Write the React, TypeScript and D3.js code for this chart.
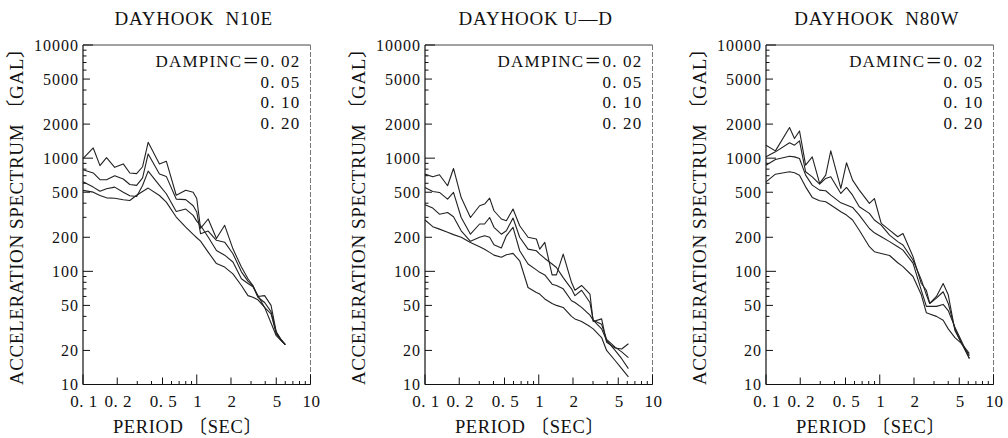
import React from 'react'
import * as d3 from 'd3'

// Damping labels (legend rows)
const DAMPING_LABELS = ['0. 02', '0. 05', '0. 10', '0. 20']

// DAYHOOK N10E — period (sec) and spectra (gal) for h = 0.02 / 0.05 / 0.10 / 0.20
const N10E_PERIODS = [0.10, 0.123, 0.141, 0.161, 0.19, 0.226, 0.258, 0.296, 0.334, 0.374, 0.47, 0.54, 0.66, 0.80, 0.93, 1.0, 1.08, 1.26, 1.49, 1.76, 2.08, 2.47, 2.82, 3.12, 3.45, 3.95, 4.5, 5.0, 5.5, 6.0]
const N10E_H02 = [990, 1230, 860, 1010, 830, 890, 740, 730, 840, 1380, 890, 940, 470, 520, 500, 440, 240, 290, 195, 255, 158, 109, 86, 75, 60, 61, 50, 29, 25, 22.5]
const N10E_H05 = [790, 740, 645, 645, 700, 655, 585, 575, 670, 1090, 725, 690, 435, 430, 380, 335, 215, 227, 188, 181, 143, 99, 82, 74, 59, 53, 44, 29, 25, 22.5]
const N10E_H10 = [620, 555, 510, 537, 555, 500, 466, 459, 574, 768, 574, 485, 338, 355, 312, 278, 254, 201, 153, 139, 121, 86, 78, 73, 61, 48, 42, 28, 24.5, 22.5]
const N10E_H20 = [519, 501, 468, 446, 443, 429, 423, 470, 508, 544, 468, 409, 302, 246, 212, 198, 185, 148, 117, 109, 95, 75, 61, 59, 56, 48, 35, 27, 24.5, 22.5]

// DAYHOOK U-D
const UD_PERIODS = [0.10, 0.117, 0.134, 0.158, 0.178, 0.208, 0.251, 0.302, 0.334, 0.370, 0.404, 0.469, 0.519, 0.594, 0.68, 0.805, 0.953, 1.02, 1.13, 1.31, 1.43, 1.64, 1.94, 2.08, 2.38, 2.82, 3.01, 3.57, 3.95, 4.69, 5.36, 6.14]
const UD_H02 = [723, 684, 713, 570, 811, 449, 299, 380, 393, 444, 343, 290, 280, 355, 253, 200, 193, 157, 180, 93, 93, 142, 80, 68, 75, 63, 36, 38, 23.6, 21, 20.6, 22.9]
const UD_H05 = [551, 508, 498, 434, 498, 299, 213, 262, 262, 299, 245, 213, 228, 296, 200, 157, 152, 142, 130, 116, 108, 88, 70, 61, 68, 53, 37, 34, 25, 21.4, 19.4, 17.3]
const UD_H10 = [387, 362, 320, 331, 304, 228, 184, 200, 206, 200, 172, 161, 206, 245, 152, 116, 103, 98, 93, 77, 75, 70, 55, 53, 48, 41, 37, 31, 24.5, 20, 16.9, 13.8]
const UD_H20 = [284, 248, 236, 221, 211, 200, 180, 165, 157, 147, 139, 133, 140, 144, 124, 72, 65, 63, 57, 52, 50, 48, 40, 38, 36, 32.5, 31, 26, 20, 16.3, 13.8, 11.7]

// DAYHOOK N80W
const N80W_PERIODS = [0.10, 0.121, 0.161, 0.178, 0.197, 0.223, 0.255, 0.296, 0.335, 0.371, 0.455, 0.51, 0.577, 0.661, 0.811, 0.897, 1.03, 1.22, 1.44, 1.60, 1.96, 2.32, 2.57, 2.75, 3.15, 3.61, 4.0, 4.58, 5.25, 6.14]
const N80W_H02 = [1300, 1160, 1865, 1490, 1740, 867, 1027, 598, 708, 1160, 540, 910, 640, 522, 398, 440, 265, 231, 202, 216, 135, 78, 68, 52, 60, 78, 62, 30, 23, 18.8]
const N80W_H05 = [1027, 1137, 1366, 1302, 1422, 758, 684, 590, 662, 684, 488, 551, 471, 372, 325, 284, 256, 209, 183, 171, 126, 84, 62, 52, 58, 66, 52, 31, 23, 17]
const N80W_H10 = [867, 973, 1041, 1027, 993, 708, 578, 522, 515, 471, 403, 385, 367, 314, 239, 219, 202, 183, 165, 154, 118, 68, 49, 49, 49, 51, 45, 32, 24, 17]
const N80W_H20 = [618, 722, 758, 742, 708, 558, 450, 420, 412, 385, 336, 314, 284, 231, 165, 149, 144, 138, 119, 110, 90, 62, 43, 42, 40, 37, 31, 26, 23, 18]

const X_TICKS = [0.1, 0.2, 0.5, 1, 2, 5, 10]
const X_TICK_LABELS = ['0. 1', '0. 2', '0. 5', '1', '2', '5', '10']
const Y_TICKS = [10, 20, 50, 100, 200, 500, 1000, 2000, 5000, 10000]

const PANELS = [
  { title: 'DAYHOOK  N10E', legend: 'DAMPINC', left: 83, periods: N10E_PERIODS, series: [N10E_H02, N10E_H05, N10E_H10, N10E_H20] },
  { title: 'DAYHOOK U\u2014D', legend: 'DAMPINC', left: 425, periods: UD_PERIODS, series: [UD_H02, UD_H05, UD_H10, UD_H20] },
  { title: 'DAYHOOK  N80W', legend: 'DAMINC', left: 766, periods: N80W_PERIODS, series: [N80W_H02, N80W_H05, N80W_H10, N80W_H20] },
]

const W = 1008
const H = 438
const PW = 227.5
const TOP = 45
const BOTTOM = 384.5
const FONT = '"Liberation Serif", "DejaVu Serif", "Noto Sans CJK JP", serif'
const INK = '#111'

function tickLen(m: number) {
  if (m === 1) return 10
  if (m === 2 || m === 5) return 7
  return 3.5
}

function Panel({ p }: { p: typeof PANELS[number] }) {
  const x = d3.scaleLog().domain([0.1, 10]).range([p.left, p.left + PW])
  const y = d3.scaleLog().domain([10, 10000]).range([BOTTOM, TOP])

  const yMinor: { v: number; len: number }[] = []
  for (let e = 1; e <= 3; e++) for (let m = 1; m <= 9; m++) yMinor.push({ v: m * 10 ** e, len: tickLen(m) })
  yMinor.push({ v: 10000, len: 10 })
  const xMinor: { v: number; len: number }[] = []
  for (let e = -1; e <= 0; e++) for (let m = 1; m <= 9; m++) xMinor.push({ v: m * 10 ** e, len: tickLen(m) })
  xMinor.push({ v: 10, len: 10 })

  const line = d3.line<number>()
    .x((_, i) => x(p.periods[i]))
    .y(d => y(d))

  const cx = p.left + PW / 2
  const textStyle = { fontFamily: FONT, whiteSpace: 'pre' as const }

  return (
    <g>
      <text x={cx - 3} y={25} textAnchor="middle" fontSize={19} fill={INK}
        style={{ ...textStyle, letterSpacing: '0.8px' }}>{p.title}</text>

      {/* frame */}
      <line x1={p.left} x2={p.left + PW} y1={TOP} y2={TOP} stroke="#444" strokeWidth={1} />
      <line x1={p.left + PW} x2={p.left + PW} y1={TOP} y2={BOTTOM} stroke="#777" strokeWidth={1} strokeDasharray="5,2" />
      <line x1={p.left} x2={p.left} y1={TOP} y2={BOTTOM} stroke={INK} strokeWidth={1.2} />
      <line x1={p.left} x2={p.left + PW} y1={BOTTOM} y2={BOTTOM} stroke={INK} strokeWidth={1.2} />

      {yMinor.map((t, i) => (
        <line key={'y' + i} x1={p.left} x2={p.left + t.len} y1={y(t.v)} y2={y(t.v)} stroke={INK} strokeWidth={1} />
      ))}
      {xMinor.map((t, i) => (
        <line key={'x' + i} x1={x(t.v)} x2={x(t.v)} y1={BOTTOM} y2={BOTTOM - t.len} stroke={INK} strokeWidth={1} />
      ))}

      {Y_TICKS.map(v => (
        <text key={v} x={p.left - 4} y={y(v) + 5.5} textAnchor="end" fontSize={16} fill={INK}
          style={{ ...textStyle, letterSpacing: '1px' }}>{v}</text>
      ))}
      {X_TICKS.map((v, i) => (
        <text key={v} x={x(v) + 1} y={407} textAnchor="middle" fontSize={17} fill={INK}
          style={{ ...textStyle, letterSpacing: '0.5px' }}>{X_TICK_LABELS[i]}</text>
      ))}

      <text x={cx - 9} y={433} textAnchor="middle" fontSize={18.5} fill={INK}
        style={{ ...textStyle, letterSpacing: '0.6px' }}>PERIOD 〔SEC〕</text>
      <text transform={`translate(${p.left - 60},${(TOP + BOTTOM) / 2 - 3}) rotate(-90)`} textAnchor="middle"
        fontSize={19} fill={INK} style={{ ...textStyle, letterSpacing: '0.6px' }}>ACCELERATION SPECTRUM 〔GAL〕</text>

      {DAMPING_LABELS.map((lab, i) => (
        <text key={lab} x={p.left + PW - 10} y={67 + i * 20.5} textAnchor="end" fontSize={17} fill={INK}
          style={{ ...textStyle, letterSpacing: '1.2px' }}>{i === 0 ? `${p.legend}＝${lab}` : lab}</text>
      ))}

      {p.series.map((s, i) => (
        <path key={i} d={line(s) ?? ''} fill="none" stroke="#222" strokeWidth={1.1} strokeLinejoin="round" />
      ))}
    </g>
  )
}

export default function App() {
  return (
    <div style={{ position: 'absolute', left: 0, top: 0, width: W, height: H, background: '#fff' }}>
      <svg width={W} height={H} viewBox={`0 0 ${W} ${H}`} style={{ display: 'block' }}>
        <rect width={W} height={H} fill="#fff" />
        {PANELS.map(p => <Panel key={p.title} p={p} />)}
      </svg>
    </div>
  )
}
